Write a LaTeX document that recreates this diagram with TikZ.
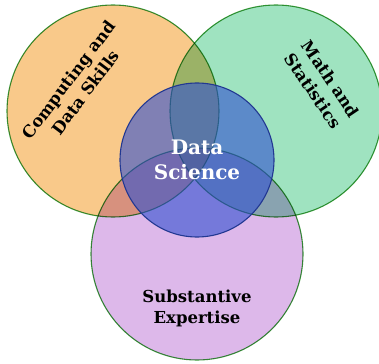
\documentclass[tikz,border=0pt]{standalone}
\usepackage{fontspec}
\setmainfont{DejaVu Serif}
\usepackage{tikz}
\usetikzlibrary{positioning}
\definecolor{compc}{HTML}{F9C98A}
\definecolor{mathc}{HTML}{9FE3C0}
\definecolor{subc}{HTML}{DDB8EA}
\definecolor{dsc}{HTML}{3050D0}
\definecolor{rimc}{HTML}{3A9A3A}
\begin{document}
\begin{tikzpicture}[x=1pt,y=-1pt,
  field/.style={circle,draw=rimc,line width=1.1pt,inner sep=0pt,minimum size=212pt},
  lbl/.style={align=center,font=\bfseries\fontsize{16.5}{21}\selectfont}]
\useasboundingbox (0,0) rectangle (379,363);
\clip (0,0) rectangle (379,363);
\begin{scope}[blend group=multiply]
\node[field,fill=compc] (comp) at (113,111) {};
\node[field,fill=mathc] (math) at (276,111) {};
\node[field,fill=subc] (subst) at (197,254) {};
\end{scope}
\node[circle,draw=dsc!70!black,line width=1.1pt,fill=dsc,fill opacity=0.6,
  inner sep=0pt,minimum size=154pt] (ds) at (197,160) {};
\node[lbl,font=\bfseries\fontsize{20}{25}\selectfont,text=white] (dslbl) at (ds) {Data\\Science};
\node[lbl,rotate=53] (complbl) at (77,86) {Computing and\\Data Skills};
\node[lbl,rotate=-56] (mathlbl) at (322,85) {Math and\\Statistics};
\node[lbl] (sublbl) at (197,308) {Substantive\\Expertise};
\end{tikzpicture}
\end{document}
